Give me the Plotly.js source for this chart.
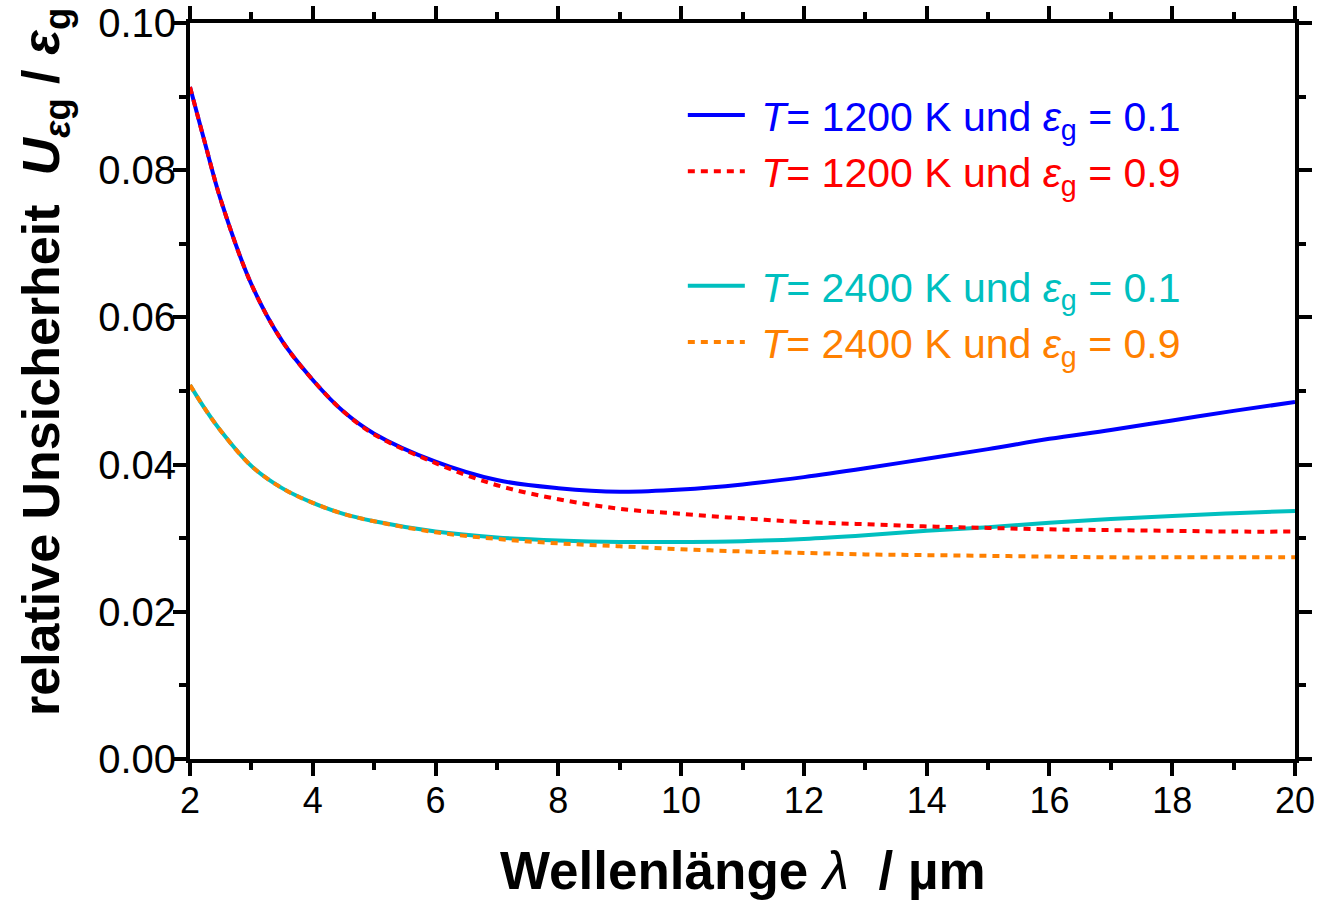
<!DOCTYPE html>
<html>
<head>
<meta charset="utf-8">
<script src="https://cdn.plot.ly/plotly-3.0.1.min.js"></script>
<style>html,body{margin:0;padding:0;background:#fff;}#chart{width:1319px;height:900px;}</style>
</head>
<body>
<div id="chart"></div>
<script>
// Wavelength grid (µm)
var wavelength = [2, 2.25, 2.5, 3, 3.5, 4, 4.5, 5, 6, 7, 8, 9, 10, 11, 12, 13, 14, 15, 16, 17, 18, 19, 20];

// T = 1200 K, eps_g = 0.1
var u1200_01 = [0.0913, 0.0835, 0.0760, 0.0645, 0.0568, 0.0515, 0.0472, 0.0442, 0.0404, 0.0379, 0.0368, 0.0363, 0.0366, 0.0373, 0.0383, 0.0395, 0.0408, 0.0421, 0.0435, 0.0447, 0.0460, 0.0473, 0.0485];
// T = 1200 K, eps_g = 0.9
var u1200_09 = [0.0913, 0.0835, 0.0760, 0.0645, 0.0568, 0.0515, 0.0472, 0.0441, 0.0402, 0.0372, 0.0353, 0.0340, 0.0333, 0.0327, 0.0322, 0.0319, 0.0316, 0.0314, 0.0312, 0.0311, 0.0310, 0.0309, 0.0309];
// T = 2400 K, eps_g = 0.1
var u2400_01 = [0.0508, 0.0475, 0.0446, 0.0398, 0.0368, 0.0348, 0.0333, 0.0323, 0.0309, 0.0301, 0.0297, 0.0295, 0.0295, 0.0296, 0.0299, 0.0304, 0.0310, 0.0315, 0.0321, 0.0326, 0.0330, 0.0334, 0.0337];
// T = 2400 K, eps_g = 0.9
var u2400_09 = [0.0508, 0.0475, 0.0446, 0.0398, 0.0368, 0.0348, 0.0333, 0.0323, 0.0308, 0.0299, 0.0293, 0.0289, 0.0285, 0.0282, 0.0280, 0.0278, 0.0277, 0.0276, 0.0275, 0.0274, 0.0274, 0.0274, 0.0274];

var seriesColors = ['#0000ff', '#ff0000', '#00bfbf', '#ff8000'];
var seriesLabels = [
  '<i>T</i>= 1200 K und <i>ε</i><sub>g</sub> = 0.1',
  '<i>T</i>= 1200 K und <i>ε</i><sub>g</sub> = 0.9',
  '<i>T</i>= 2400 K und <i>ε</i><sub>g</sub> = 0.1',
  '<i>T</i>= 2400 K und <i>ε</i><sub>g</sub> = 0.9'
];
var xTitle = '<b>Wellenlänge </b><i>λ</i><b>&nbsp;&nbsp;/ µm</b>';
var yTitle = '<b>relative Unsicherheit&nbsp;&nbsp;<i>U</i><sub><i>ε</i>g</sub> / <i>ε</i><sub>g</sub></b>';

var FONT = 'Arial, "Liberation Sans", sans-serif';

function tr(y, i, dash, group, rank) {
  return {
    x: wavelength, y: y, type: 'scatter', mode: 'lines',
    name: '<span style="color:' + seriesColors[i] + '">&nbsp;' + seriesLabels[i] + '</span>',
    legendgroup: group, legendrank: rank,
    line: {color: seriesColors[i], width: 4, dash: dash, shape: 'spline', smoothing: 1}
  };
}

var data = [
  tr(u2400_01, 2, 'solid', 'b', 3),
  tr(u2400_09, 3, '7px,6px', 'b', 4),
  tr(u1200_01, 0, 'solid', 'a', 1),
  tr(u1200_09, 1, '7px,6px', 'a', 2)
];

var layout = {
  width: 1319, height: 900,
  margin: {l: 190, r: 24, t: 23, b: 141},
  paper_bgcolor: '#fff', plot_bgcolor: '#fff',
  font: {family: FONT, size: 36, color: '#000'},
  showlegend: true,
  legend: {
    x: 0.446, y: 0.920, xanchor: 'left', yanchor: 'top',
    bgcolor: 'rgba(0,0,0,0)', borderwidth: 0,
    font: {family: FONT, size: 41},
    itemwidth: 57, tracegroupgap: 58, traceorder: 'grouped'
  },
  xaxis: {
    range: [2, 20], dtick: 2, tick0: 2,
    showline: true, linewidth: 4, linecolor: '#000', mirror: 'ticks',
    ticks: 'outside', ticklen: 13, tickwidth: 4, tickcolor: '#000',
    minor: {dtick: 1, ticks: 'outside', ticklen: 7, tickwidth: 4, tickcolor: '#000'},
    showgrid: false, zeroline: false,
    tickfont: {size: 36}, ticklabelstandoff: -6
  },
  yaxis: {
    range: [0, 0.1], dtick: 0.02, tick0: 0, tickformat: '.2f',
    showline: true, linewidth: 4, linecolor: '#000', mirror: 'ticks',
    ticks: 'outside', ticklen: 13, tickwidth: 4, tickcolor: '#000',
    minor: {dtick: 0.01, ticks: 'outside', ticklen: 7, tickwidth: 4, tickcolor: '#000'},
    showgrid: false, zeroline: false,
    tickfont: {size: 40}, ticklabelstandoff: -11
  },
  annotations: [
    {text: xTitle, xref: 'paper', yref: 'paper', x: 0.5, y: -0.152,
     xanchor: 'center', yanchor: 'middle', showarrow: false, font: {size: 53}},
    {text: yTitle, xref: 'paper', yref: 'paper', x: -0.1312, y: 0.5394, textangle: -90,
     xanchor: 'center', yanchor: 'middle', showarrow: false, font: {size: 52}}
  ]
};

Plotly.newPlot('chart', data, layout, {staticPlot: true, displayModeBar: false});
</script>
</body>
</html>
